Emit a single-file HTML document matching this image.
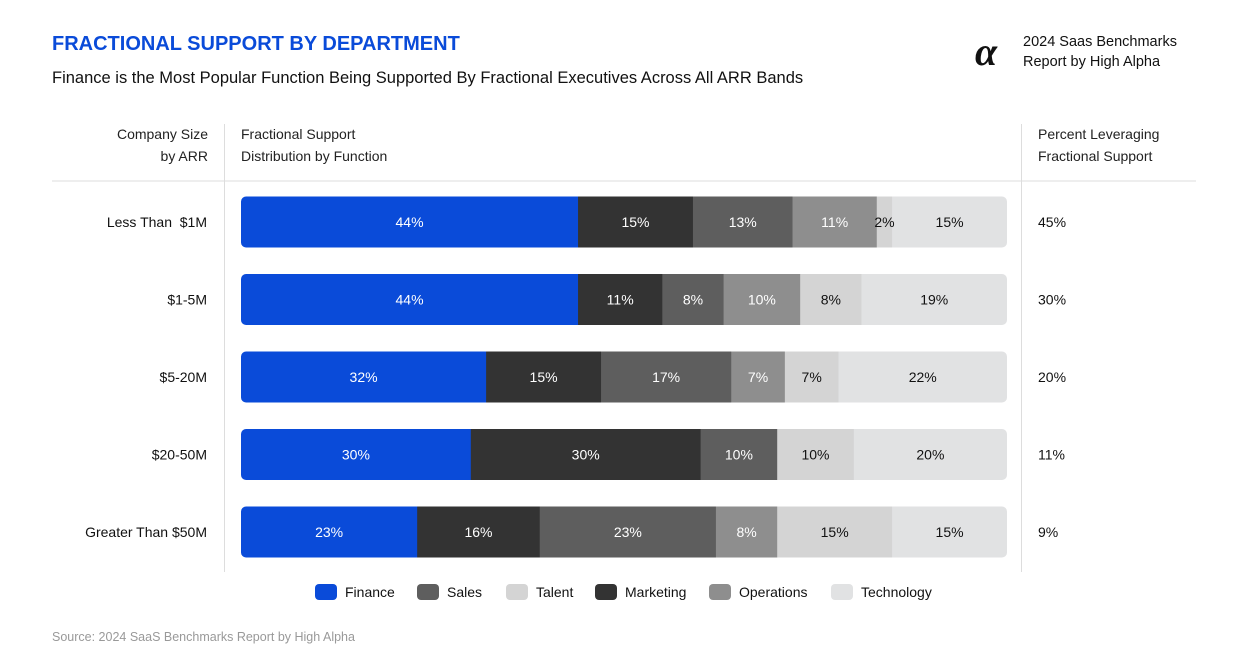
<!DOCTYPE html>
<html><head><meta charset="utf-8"><style>
body{margin:0;background:#fff;font-family:"Liberation Sans",sans-serif;}
svg{display:block}
</style></head><body>
<svg id="c" width="1255" height="663" xmlns="http://www.w3.org/2000/svg" font-family="Liberation Sans, sans-serif">
<text x="52" y="50" font-size="20" fill="#0a4bd9" font-weight="600">FRACTIONAL SUPPORT BY DEPARTMENT</text>
<text x="52" y="83" font-size="16.5" fill="#111">Finance is the Most Popular Function Being Supported By Fractional Executives Across All ARR Bands</text>
<text x="975" y="65" font-size="40" font-style="italic" font-weight="bold" font-family="Liberation Serif, serif" fill="#111">α</text>
<text x="1023" y="46" font-size="14.5" fill="#111">2024 Saas Benchmarks</text>
<text x="1023" y="66" font-size="14.5" fill="#111">Report by High Alpha</text>
<text x="208" y="139" font-size="14" text-anchor="end" fill="#222">Company Size</text>
<text x="208" y="161" font-size="14" text-anchor="end" fill="#222">by ARR</text>
<text x="241" y="139" font-size="14" fill="#222">Fractional Support</text>
<text x="241" y="161" font-size="14" fill="#222">Distribution by Function</text>
<text x="1038" y="139" font-size="14" fill="#222">Percent Leveraging</text>
<text x="1038" y="161" font-size="14" fill="#222">Fractional Support</text>
<line x1="52" y1="181" x2="1196" y2="181" stroke="#ddd"/>
<line x1="224.5" y1="124" x2="224.5" y2="572" stroke="#ddd"/>
<line x1="1021.5" y1="124" x2="1021.5" y2="572" stroke="#ddd"/>
<g id="bars"></g>
<g id="legend"></g>
<text x="52" y="641" font-size="12.5" fill="#999">Source: 2024 SaaS Benchmarks Report by High Alpha</text>
</svg>
<script>
const categories=["Less Than\u00a0 $1M","$1-5M","$5-20M","$20-50M","Greater Than $50M"];
const finance=[44,44,32,30,23];
const marketing=[15,11,15,30,16];
const sales=[13,8,17,10,23];
const operations=[11,10,7,0,8];
const talent=[2,8,7,10,15];
const technology=[15,19,22,20,15];
const leveraging=["45%","30%","20%","11%","9%"];
const seriesNames=["Finance","Marketing","Sales","Operations","Talent","Technology"];
const series=[finance,marketing,sales,operations,talent,technology];
const colors=["#0a4bd9","#333333","#5e5e5e","#8e8e8e","#d4d4d4","#e1e2e3"];
const textCol=["#fff","#fff","#fff","#fff","#111","#111"];
const NS="http://www.w3.org/2000/svg";
const X0=241,W=766,Y0=222,STEP=77.5,BH=51;
const xs=v=>v/100*W;
const yc=i=>Y0+i*STEP;
const bars=document.getElementById('bars');
function mk(t,a,p){const e=document.createElementNS(NS,t);for(const k in a)e.setAttribute(k,a[k]);p.appendChild(e);return e;}
const defs=mk('defs',{},document.getElementById('c'));
categories.forEach((c,i)=>{
  const cp=mk('clipPath',{id:'cp'+i},defs);
  mk('rect',{x:X0,y:yc(i)-BH/2,width:W,height:BH,rx:5},cp);
  const g=mk('g',{'clip-path':'url(#cp'+i+')'},bars);
  
  
  let x=X0;
  series.forEach((s,k)=>{
    const v=s[i]; if(!v)return;
    const w=xs(v);
    const r=mk('rect',{x:x,y:yc(i)-BH/2,width:w+0.5,height:BH,fill:colors[k]},g);
    
    
    const t=mk('text',{x:x+w/2,y:yc(i)+5,'font-size':14,'text-anchor':'middle',fill:textCol[k]},bars);
    t.textContent=v+'%';
    
    
    x+=w;
  });
  const l=mk('text',{x:207,y:yc(i)+5,'font-size':14,'text-anchor':'end',fill:'#111'},bars);
  l.textContent=c;
  
  
  const p=mk('text',{x:1038,y:yc(i)+5,'font-size':14,fill:'#111'},bars);
  p.textContent=leveraging[i];
  
  
});
const legOrder=[0,2,4,1,3,5];
const legX=[315,417,506,595,709,831];
const lg=document.getElementById('legend');
legOrder.forEach((k,j)=>{
  const r=mk('rect',{x:legX[j],y:584,width:22,height:16,rx:4,fill:colors[k]},lg);
  
  
  const t=mk('text',{x:legX[j]+30,y:597,'font-size':14,fill:'#111'},lg);
  t.textContent=seriesNames[k];
  
  
});
</script>
</body></html>
